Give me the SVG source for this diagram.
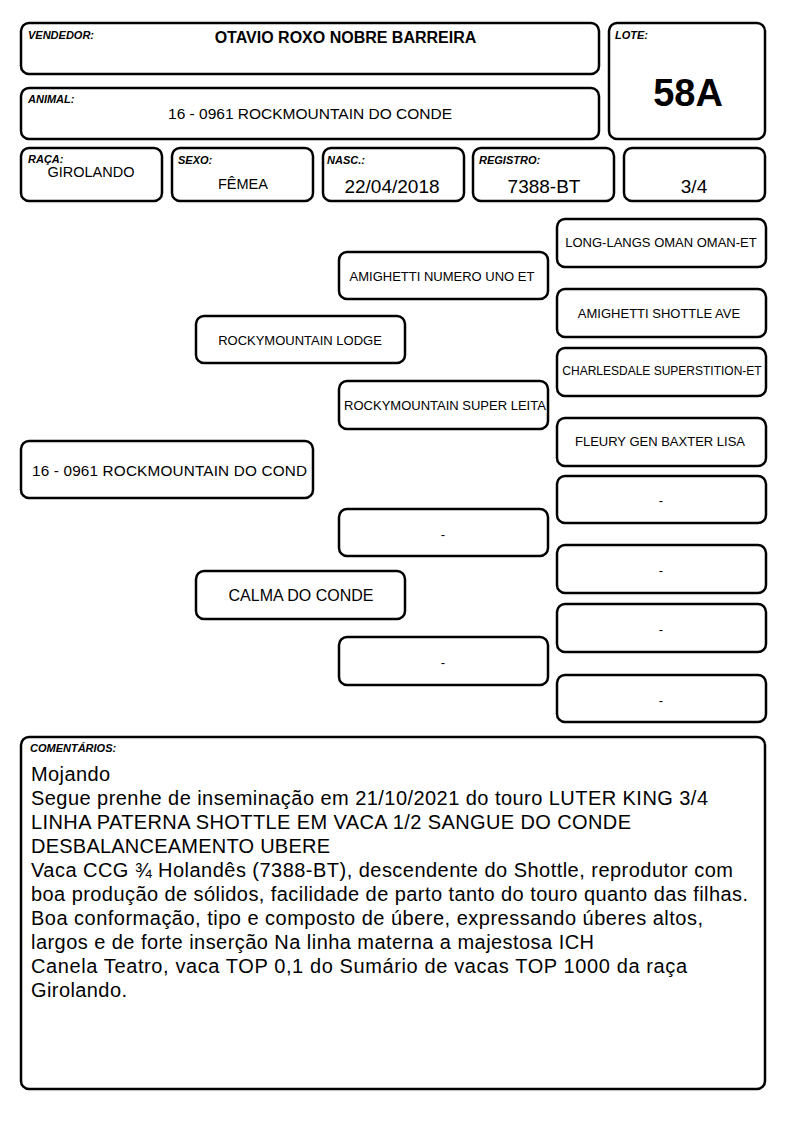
<svg xmlns="http://www.w3.org/2000/svg" width="794" height="1123" viewBox="0 0 794 1123">
<style>
.box{fill:#fff;stroke:#000;stroke-width:2.5}
.lbl{font-family:"Liberation Sans",Arial,sans-serif;font-size:11px;font-weight:bold;font-style:italic}
.t{font-family:"Liberation Sans",Arial,sans-serif;fill:#000;text-anchor:middle}
.p{font-family:"Liberation Sans",Arial,sans-serif;font-size:13px;text-anchor:middle}
.c{font-family:"Liberation Sans",Arial,sans-serif;font-size:20px}
</style>
<rect width="794" height="1123" fill="#fff"/>
<g id="vendedor">
<rect class="box" x="21" y="23" width="578" height="51" rx="8"/>
<text class="lbl" x="28" y="39">VENDEDOR:</text>
<text class="t" x="345.5" y="43" font-size="16" font-weight="bold">OTAVIO ROXO NOBRE BARREIRA</text>
</g>
<g id="animal">
<rect class="box" x="21" y="88" width="578" height="51" rx="8"/>
<text class="lbl" x="28" y="103">ANIMAL:</text>
<text class="t" x="310" y="119" font-size="15.5">16 - 0961 ROCKMOUNTAIN DO CONDE</text>
</g>
<g id="lote">
<rect class="box" x="609" y="23" width="156" height="116" rx="8"/>
<text class="lbl" x="615" y="39">LOTE:</text>
<text class="t" x="688" y="106" font-size="38" font-weight="bold">58A</text>
</g>
<g id="raca">
<rect class="box" x="21" y="148" width="141" height="53" rx="8"/>
<text class="lbl" x="28" y="163">RAÇA:</text>
<text class="t" x="91" y="177" font-size="14.5">GIROLANDO</text>
</g>
<g id="sexo">
<rect class="box" x="172" y="148" width="141" height="53" rx="8"/>
<text class="lbl" x="178" y="164">SEXO:</text>
<text class="t" x="243" y="189" font-size="14.5">FÊMEA</text>
</g>
<g id="nasc">
<rect class="box" x="323" y="148" width="141" height="53" rx="8"/>
<text class="lbl" x="327" y="164">NASC.:</text>
<text class="t" x="392" y="193" font-size="19">22/04/2018</text>
</g>
<g id="registro">
<rect class="box" x="473" y="148" width="141" height="53" rx="8"/>
<text class="lbl" x="479" y="164">REGISTRO:</text>
<text class="t" x="544" y="193" font-size="19">7388-BT</text>
</g>
<g id="grau">
<rect class="box" x="624" y="148" width="141" height="53" rx="8"/>
<text class="t" x="694" y="193" font-size="19">3/4</text>
</g>
<g id="connectors"></g>
<g id="animal-node">
<rect class="box" x="21" y="441" width="292" height="57" rx="8"/>
<text class="t" x="169.5" y="475.5" font-size="15.3" textLength="275" lengthAdjust="spacing">16 - 0961 ROCKMOUNTAIN DO COND</text>
</g>
<g id="pai">
<rect class="box" x="196" y="316" width="209" height="47" rx="8"/>
<text class="p" x="300" y="344.5">ROCKYMOUNTAIN LODGE</text>
</g>
<g id="mae">
<rect class="box" x="196" y="571" width="209" height="48" rx="8"/>
<text class="t" x="301" y="600.5" font-size="16">CALMA DO CONDE</text>
</g>
<g id="avo-pp">
<rect class="box" x="339" y="252" width="209" height="47" rx="8"/>
<text class="p" x="442" y="280.5">AMIGHETTI NUMERO UNO ET</text>
</g>
<g id="avo-pm">
<rect class="box" x="339" y="381" width="209" height="48" rx="8"/>
<text class="p" x="445" y="409.5">ROCKYMOUNTAIN SUPER LEITA</text>
</g>
<g id="avo-mp">
<rect class="box" x="339" y="509" width="209" height="47" rx="8"/>
<text class="p" x="443" y="538.5">-</text>
</g>
<g id="avo-mm">
<rect class="box" x="339" y="637" width="209" height="48" rx="8"/>
<text class="p" x="443" y="666.5">-</text>
</g>
<g id="bisavo-1">
<rect class="box" x="557" y="219" width="209" height="48" rx="8"/>
<text class="p" x="661" y="246.5">LONG-LANGS OMAN OMAN-ET</text>
</g>
<g id="bisavo-2">
<rect class="box" x="557" y="289" width="209" height="48" rx="8"/>
<text class="p" x="659" y="317.5">AMIGHETTI SHOTTLE AVE</text>
</g>
<g id="bisavo-3">
<rect class="box" x="557" y="348" width="209" height="48" rx="8"/>
<text class="t" x="662" y="374.5" font-size="12">CHARLESDALE SUPERSTITION-ET</text>
</g>
<g id="bisavo-4">
<rect class="box" x="557" y="418" width="209" height="48" rx="8"/>
<text class="p" x="660" y="445.5">FLEURY GEN BAXTER LISA</text>
</g>
<g id="bisavo-5">
<rect class="box" x="557" y="476" width="209" height="47" rx="8"/>
<text class="p" x="661" y="504.5">-</text>
</g>
<g id="bisavo-6">
<rect class="box" x="557" y="545" width="209" height="48" rx="8"/>
<text class="p" x="661" y="574.5">-</text>
</g>
<g id="bisavo-7">
<rect class="box" x="557" y="604" width="209" height="48" rx="8"/>
<text class="p" x="661" y="633.5">-</text>
</g>
<g id="bisavo-8">
<rect class="box" x="557" y="675" width="209" height="47" rx="8"/>
<text class="p" x="661" y="704.5">-</text>
</g>
<g id="comentarios">
<rect class="box" x="21" y="737" width="744" height="352" rx="8"/>
<text class="lbl" x="30" y="752">COMENTÁRIOS:</text>
<text class="c" x="31" y="781" textLength="79" lengthAdjust="spacing">Mojando</text>
<text class="c" x="31" y="805" textLength="677" lengthAdjust="spacing">Segue prenhe de inseminação em 21/10/2021 do touro LUTER KING 3/4</text>
<text class="c" x="31" y="829" textLength="600" lengthAdjust="spacing">LINHA PATERNA SHOTTLE EM VACA 1/2 SANGUE DO CONDE</text>
<text class="c" x="31" y="853" textLength="299" lengthAdjust="spacing">DESBALANCEAMENTO UBERE</text>
<text class="c" x="31" y="877" textLength="702" lengthAdjust="spacing">Vaca CCG ¾ Holandês (7388-BT), descendente do Shottle, reprodutor com</text>
<text class="c" x="31" y="901" textLength="717" lengthAdjust="spacing">boa produção de sólidos, facilidade de parto tanto do touro quanto das filhas.</text>
<text class="c" x="31" y="925" textLength="672" lengthAdjust="spacing">Boa conformação, tipo e composto de úbere, expressando úberes altos,</text>
<text class="c" x="31" y="949" textLength="563" lengthAdjust="spacing">largos e de forte inserção Na linha materna a majestosa ICH</text>
<text class="c" x="31" y="973" textLength="656" lengthAdjust="spacing">Canela Teatro, vaca TOP 0,1 do Sumário de vacas TOP 1000 da raça</text>
<text class="c" x="31" y="997" textLength="96" lengthAdjust="spacing">Girolando.</text>
</g>
</svg>
